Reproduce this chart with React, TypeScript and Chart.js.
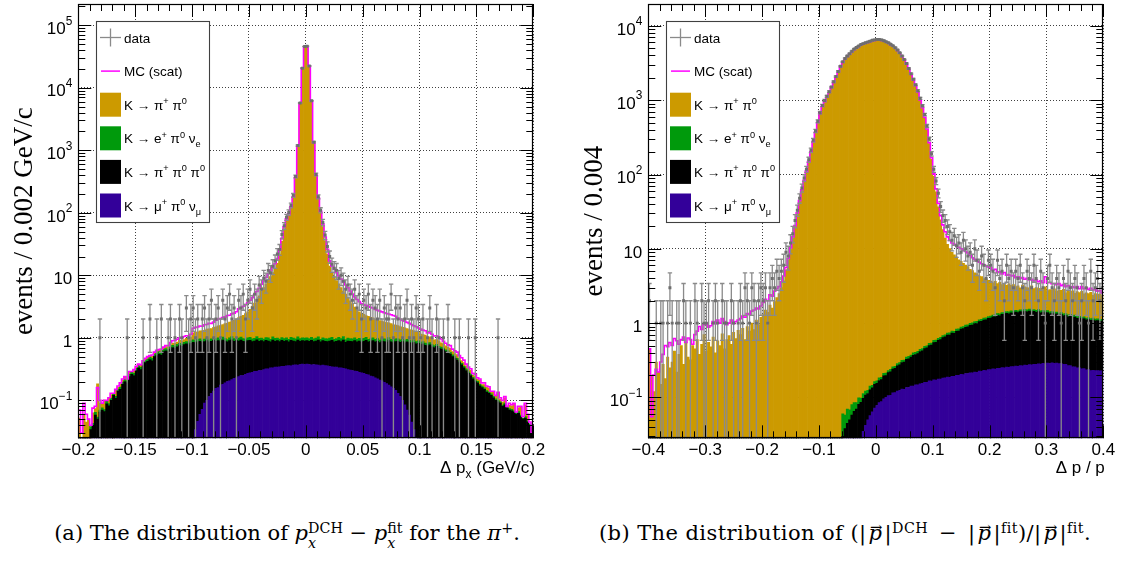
import { useEffect, useRef } from 'react';
import { Chart, registerables } from 'chart.js';

Chart.register(...registerables);

// ───────────── (a) Δp_x for the π⁺ : 200 bins of 0.002 GeV/c ─────────────
const pxRange = [-0.2, 0.2];
const pxBinWidth = 0.002;
const pxYRange = [0.0247, 2.19e5];
const pxTickStep = 0.05;
const pxDecades = [-1, 0, 1, 2, 3, 4, 5];

// K → μ⁺ π⁰ ν_μ
const pxKmu3 = [
  0,0,0,0,0,0,0,0,0,0,
  0,0,0,0,0,0,0,0,0,0,
  0,0,0,0,0,0,0,0,0,0,
  0,0,0,0,0,0,0,0,0,0,
  0,0,0,0,0,0,0,0,0,0,
  0.022,0.034,0.046,0.06,0.072,0.09,0.1,0.115,0.13,0.14,
  0.155,0.16,0.175,0.18,0.19,0.2,0.205,0.215,0.225,0.23,
  0.24,0.25,0.25,0.26,0.27,0.275,0.28,0.29,0.29,0.3,
  0.3,0.31,0.32,0.32,0.33,0.33,0.34,0.34,0.345,0.35,
  0.35,0.355,0.36,0.355,0.365,0.37,0.365,0.375,0.38,0.375,
  0.38,0.375,0.37,0.375,0.37,0.365,0.36,0.365,0.36,0.355,
  0.35,0.345,0.34,0.34,0.33,0.33,0.325,0.32,0.31,0.305,
  0.3,0.295,0.29,0.28,0.275,0.27,0.26,0.255,0.245,0.24,
  0.23,0.22,0.21,0.205,0.195,0.185,0.175,0.165,0.155,0.145,
  0.13,0.115,0.1,0.085,0.07,0.058,0.045,0.034,0.025,0.015,
  0,0,0,0,0,0,0,0,0,0,
  0,0,0,0,0,0,0,0,0,0,
  0,0,0,0,0,0,0,0,0,0,
  0,0,0,0,0,0,0,0,0,0,
  0,0,0,0,0,0,0,0,0,0,
];
// K → π⁺ π⁰ π⁰
const pxK3pi = [
  0.012,0.02,0.01,0.022,0.018,0.034,0.04,0.058,0.05,0.065,
  0.07,0.066,0.088,0.082,0.1,0.12,0.108,0.14,0.15,0.18,
  0.2,0.19,0.24,0.26,0.25,0.3,0.33,0.31,0.37,0.4,
  0.42,0.45,0.43,0.5,0.52,0.55,0.53,0.6,0.62,0.6,
  0.66,0.7,0.68,0.72,0.75,0.73,0.78,0.8,0.77,0.82,
  0.828,0.796,0.814,0.82,0.768,0.78,0.8,0.745,0.75,0.77,
  0.725,0.74,0.695,0.74,0.7,0.66,0.695,0.715,0.655,0.67,
  0.65,0.67,0.63,0.6,0.63,0.635,0.59,0.6,0.64,0.58,
  0.6,0.56,0.59,0.57,0.53,0.59,0.54,0.56,0.525,0.56,
  0.53,0.545,0.5,0.555,0.525,0.5,0.555,0.505,0.52,0.515,
  0.52,0.505,0.54,0.495,0.52,0.555,0.5,0.535,0.52,0.515,
  0.54,0.565,0.52,0.54,0.57,0.54,0.595,0.53,0.58,0.575,
  0.57,0.605,0.57,0.61,0.575,0.61,0.65,0.605,0.625,0.66,
  0.63,0.66,0.63,0.685,0.675,0.665,0.725,0.695,0.675,0.725,
  0.75,0.735,0.77,0.745,0.79,0.782,0.775,0.816,0.775,0.805,
  0.78,0.8,0.76,0.74,0.77,0.72,0.7,0.73,0.68,0.66,
  0.64,0.6,0.58,0.55,0.5,0.47,0.44,0.4,0.37,0.33,
  0.3,0.27,0.25,0.22,0.2,0.19,0.17,0.16,0.15,0.135,
  0.13,0.12,0.11,0.1,0.095,0.09,0.08,0.085,0.075,0.07,
  0.068,0.065,0.06,0.062,0.055,0.05,0.052,0.045,0.04,0.035,
];
// K → e⁺ π⁰ ν_e
const pxKe3 = [
  0,0.002,0,0.003,0.002,0.004,0.003,0.006,0.004,0.005,
  0.006,0.005,0.008,0.007,0.009,0.01,0.008,0.012,0.013,0.015,
  0.017,0.016,0.02,0.022,0.02,0.025,0.028,0.026,0.03,0.034,
  0.036,0.04,0.038,0.044,0.046,0.05,0.045,0.052,0.055,0.05,
  0.058,0.062,0.06,0.065,0.068,0.064,0.07,0.072,0.066,0.075,
  0.078,0.07,0.082,0.08,0.074,0.085,0.09,0.08,0.086,0.092,
  0.09,0.1,0.085,0.11,0.095,0.08,0.1,0.115,0.09,0.1,
  0.1,0.11,0.09,0.085,0.1,0.105,0.09,0.095,0.12,0.1,
  0.095,0.085,0.1,0.11,0.09,0.12,0.1,0.095,0.085,0.1,
  0.09,0.1,0.085,0.11,0.1,0.095,0.12,0.09,0.1,0.105,
  0.1,0.095,0.11,0.09,0.1,0.115,0.085,0.1,0.095,0.09,
  0.1,0.11,0.09,0.095,0.12,0.1,0.13,0.09,0.1,0.095,
  0.09,0.1,0.085,0.095,0.08,0.1,0.11,0.085,0.09,0.1,
  0.085,0.09,0.08,0.1,0.09,0.085,0.11,0.09,0.08,0.09,
  0.085,0.08,0.088,0.075,0.082,0.078,0.07,0.08,0.072,0.076,
  0.07,0.072,0.065,0.062,0.066,0.058,0.055,0.06,0.052,0.05,
  0.048,0.044,0.042,0.038,0.034,0.031,0.028,0.025,0.022,0.02,
  0.018,0.016,0.015,0.013,0.012,0.011,0.01,0.009,0.009,0.008,
  0.007,0.007,0.006,0.006,0.005,0.005,0.004,0.005,0.004,0.004,
  0.004,0.003,0.003,0.004,0.003,0.002,0.003,0.002,0.002,0.002,
];
// K → π⁺ π⁰
const pxK2pi = [
  0.04,0,0.05,0.02,0.03,0,0.02,0.01,0.13,0.02,
  0.01,0.03,0,0.02,0.015,0,0.03,0.01,0.02,0.015,
  0.02,0.01,0.02,0,0.03,0.02,0.01,0.03,0.02,0.03,
  0.03,0.02,0.04,0.03,0.05,0.03,0.06,0.04,0.05,0.07,
  0.05,0.06,0.08,0.07,0.09,0.1,0.09,0.11,0.12,0.13,
  0.27,0.33,0.3,0.33,0.38,0.36,0.39,0.45,0.44,0.47,
  0.53,0.56,0.62,0.6,0.7,0.77,0.79,0.81,0.94,1.0,
  1.11,1.17,1.33,1.5,1.6,1.84,2.24,2.62,3.05,3.72,
  4.6,5.4,6.3,7.4,8.6,10,11.5,14.5,21,34,
  54,74,89,119,174,359,1150,5600,20000,45000,
  46000,22000,6000,1300,389,164,99,59,35,21,
  13,10,8.55,7.3,6.3,5.4,4.55,4.05,3.4,2.93,
  2.54,2.1,1.86,1.62,1.5,1.4,1.25,1.27,1.16,1.08,
  1.05,0.98,0.97,0.86,0.85,0.82,0.72,0.74,0.7,0.64,
  0.6,0.59,0.52,0.54,0.46,0.44,0.44,0.37,0.4,0.34,
  0.3,0.26,0.28,0.22,0.2,0.21,0.17,0.15,0.16,0.12,
  0.11,0.1,0.08,0.09,0.07,0.06,0.07,0.05,0.04,0.05,
  0.04,0.03,0.04,0.02,0.03,0.02,0.03,0.01,0.02,0.02,
  0.02,0.01,0.02,0.01,0.03,0.01,0.01,0.02,0,0.01,
  0.01,0.02,0,0.01,0.02,0,0.03,0.01,0,0,
];
// MC including multiple scattering
const pxMcScat = [
  0.07,0.03,0.09,0.06,0.05,0.04,0.075,0.08,0.16,0.1,
  0.09,0.1,0.1,0.11,0.13,0.13,0.15,0.17,0.19,0.22,
  0.24,0.22,0.29,0.29,0.31,0.35,0.38,0.37,0.43,0.47,
  0.5,0.52,0.53,0.59,0.63,0.65,0.66,0.71,0.75,0.75,
  0.84,0.9,0.91,0.95,1.0,1.0,1.05,1.08,1.08,1.14,
  1.42,1.47,1.49,1.55,1.54,1.62,1.63,1.7,1.7,1.78,
  1.92,2.0,2.03,2.12,2.16,2.27,2.3,2.42,2.48,2.62,
  2.9,3.05,3.2,3.4,3.65,4.0,4.4,4.9,5.5,6.2,
  7.2,8.2,9.3,10.6,12,13.6,15.3,18.5,25.5,39,
  60,80,96,125,180,370,1170,5650,20500,45500,
  46500,22500,6100,1320,400,172,106,66,41,26,
  17,14,12.5,11,9.8,8.7,7.8,7.0,6.3,5.6,
  5.0,4.5,4.1,3.8,3.55,3.4,3.3,3.18,3.08,3.0,
  2.85,2.75,2.68,2.6,2.52,2.45,2.4,2.34,2.28,2.22,
  2.05,1.98,1.9,1.84,1.77,1.7,1.63,1.56,1.5,1.44,
  1.38,1.33,1.3,1.2,1.2,1.14,1.07,1.08,1.03,0.96,
  0.88,0.82,0.77,0.75,0.66,0.62,0.59,0.52,0.48,0.44,
  0.38,0.34,0.32,0.27,0.26,0.23,0.22,0.19,0.19,0.17,
  0.165,0.14,0.14,0.12,0.135,0.11,0.1,0.115,0.08,0.09,
  0.085,0.09,0.065,0.08,0.08,0.055,0.09,0.06,0.045,0.03,
];
// recorded events
const pxData = [
  0,0,0,0,0,0,0,0,0,1,
  0,0,0,0,0,0,0,0,0,0,
  0,1,0,0,0,0,0,0,1,0,
  0,2,0,0,1,0,2,0,0,1,
  2,0,1,0,2,1,0,3,1,2,
  3,1,2,0,2,3,1,2,4,1,
  2,3,1,4,2,3,5,2,3,1,
  4,3,5,2,4,6,3,5,4,7,
  6,9,8,12,11,14,17,22,26,45,
  62,85,101,131,190,382,1190,5700,20600,45800,
  46200,22300,6200,1350,410,180,110,70,44,29,
  20,15,13,12,9,10,8,6,7,5,
  4,6,3,5,2,4,3,5,2,4,
  3,2,4,1,3,2,2,5,1,3,
  2,3,1,2,4,1,2,1,3,2,
  1,2,0,1,3,1,0,2,1,0,
  1,0,2,0,0,1,0,1,0,0,
  0,1,0,0,1,0,0,0,0,0,
  0,0,0,0,1,0,0,0,0,0,
  0,0,0,0,0,0,0,0,0,0,
];

// ───────────── (b) Δp/p : 200 bins of 0.004 ─────────────
const dpRange = [-0.4, 0.4];
const dpBinWidth = 0.004;
const dpYRange = [0.0282, 19700];
const dpTickStep = 0.1;
const dpDecades = [-1, 0, 1, 2, 3, 4];

const dpKmu3 = [
  0,0,0,0,0,0,0,0,0,0,
  0,0,0,0,0,0,0,0,0,0,
  0,0,0,0,0,0,0,0,0,0,
  0,0,0,0,0,0,0,0,0,0,
  0,0,0,0,0,0,0,0,0,0,
  0,0,0,0,0,0,0,0,0,0,
  0,0,0,0,0,0,0,0,0,0,
  0,0,0,0,0,0,0,0,0,0,
  0,0,0,0,0,0,0,0,0,0,
  0,0,0,0.028,0.035,0.042,0.05,0.057,0.064,0.072,
  0.078,0.085,0.088,0.096,0.1,0.106,0.107,0.115,0.116,0.122,
  0.124,0.13,0.129,0.136,0.136,0.142,0.142,0.148,0.148,0.153,
  0.155,0.16,0.16,0.167,0.166,0.172,0.171,0.177,0.176,0.182,
  0.183,0.188,0.186,0.192,0.192,0.198,0.198,0.204,0.203,0.21,
  0.21,0.215,0.214,0.22,0.218,0.226,0.224,0.232,0.23,0.237,
  0.237,0.242,0.24,0.247,0.246,0.252,0.25,0.256,0.254,0.26,
  0.26,0.264,0.263,0.268,0.266,0.272,0.27,0.276,0.274,0.28,
  0.28,0.284,0.281,0.287,0.284,0.289,0.286,0.292,0.288,0.29,
  0.285,0.286,0.278,0.279,0.268,0.268,0.258,0.259,0.25,0.25,
  0.243,0.244,0.236,0.237,0.23,0.232,0.23,0.23,0.228,0.228,
];
const dpK3pi = [
  0,0,0,0,0,0,0,0,0,0,
  0,0,0,0,0,0,0,0,0,0,
  0,0,0,0,0,0,0,0,0,0,
  0,0,0,0,0,0,0,0,0,0,
  0,0,0,0,0,0,0,0,0,0,
  0,0,0,0,0,0,0,0,0,0,
  0,0,0,0,0,0,0,0,0,0,
  0,0,0,0,0,0,0,0,0,0,
  0,0,0,0,0,0.03,0.038,0.045,0.05,0.058,
  0.065,0.07,0.081,0.058,0.062,0.066,0.063,0.07,0.071,0.078,
  0.077,0.084,0.086,0.1,0.097,0.11,0.115,0.126,0.13,0.145,
  0.15,0.165,0.17,0.19,0.196,0.206,0.228,0.23,0.24,0.262,
  0.27,0.295,0.305,0.33,0.34,0.375,0.38,0.41,0.425,0.455,
  0.47,0.5,0.505,0.54,0.535,0.58,0.585,0.625,0.64,0.67,
  0.68,0.72,0.73,0.77,0.77,0.82,0.83,0.87,0.88,0.92,
  0.93,0.97,0.98,1.02,1.01,1.06,1.06,1.1,1.08,1.12,
  1.1,1.14,1.12,1.16,1.14,1.17,1.15,1.18,1.13,1.16,
  1.12,1.15,1.1,1.12,1.09,1.1,1.05,1.07,1.03,1.04,
  1.0,1.03,0.98,0.99,0.95,0.97,0.93,0.95,0.91,0.92,
  0.89,0.91,0.87,0.88,0.86,0.87,0.84,0.85,0.82,0.84,
];
const dpKe3 = [
  0,0,0,0,0,0,0,0,0,0,
  0,0,0,0,0,0,0,0,0,0,
  0,0,0,0,0,0,0,0,0,0,
  0,0,0,0,0,0,0,0,0,0,
  0,0,0,0,0,0,0,0,0,0,
  0,0,0,0,0,0,0,0,0,0,
  0,0,0,0,0,0,0,0,0,0,
  0,0,0,0,0,0,0,0,0,0,
  0,0,0,0,0,0.03,0.02,0.025,0.018,0.022,
  0.02,0.015,0.018,0.012,0.016,0.014,0.012,0.015,0.011,0.013,
  0.012,0.014,0.013,0.015,0.016,0.014,0.017,0.018,0.016,0.019,
  0.02,0.022,0.02,0.024,0.025,0.023,0.027,0.026,0.028,0.03,
  0.031,0.033,0.03,0.036,0.035,0.038,0.04,0.037,0.042,0.043,
  0.045,0.044,0.048,0.05,0.047,0.052,0.053,0.055,0.056,0.058,
  0.06,0.058,0.063,0.062,0.066,0.065,0.068,0.07,0.072,0.071,
  0.074,0.073,0.076,0.078,0.077,0.08,0.082,0.08,0.083,0.084,
  0.085,0.084,0.086,0.087,0.088,0.086,0.089,0.088,0.087,0.086,
  0.086,0.085,0.084,0.083,0.084,0.082,0.081,0.08,0.079,0.078,
  0.077,0.076,0.075,0.074,0.072,0.073,0.071,0.07,0.069,0.068,
  0.067,0.066,0.065,0.064,0.065,0.063,0.062,0.062,0.061,0.06,
];
const dpK2pi = [
  0.45,0.2,0.12,0.3,0.22,0.15,0.28,0.18,0.35,0.25,
  0.3,0.42,0.22,0.38,0.5,0.28,0.55,0.35,0.32,0.5,
  0.45,0.6,0.38,0.52,0.7,0.42,0.55,0.48,0.65,0.4,
  0.58,0.5,0.72,0.45,0.6,0.68,0.52,0.75,0.62,0.8,
  0.7,0.85,0.6,0.9,0.78,1.0,0.82,1.1,0.95,1.2,
  1.3,1.5,1.4,1.75,1.6,1.95,2.2,2.5,3.0,3.7,
  5.2,7,9.8,14,20,30,44,62,83,110,
  148,200,275,370,500,660,820,950,1090,1260,
  1460,1720,2020,2380,2800,3200,3550,3850,4150,4450,
  4750,5000,5250,5500,5650,5800,5950,6100,6250,6350,
  6450,6450,6350,6200,6000,5800,5550,5300,5000,4650,
  4250,3850,3450,3050,2600,2200,1850,1550,1280,1000,
  780,580,400,260,160,95,58,36,24,17.5,
  13.3,10.8,9.3,8.2,7.5,6.9,6.3,5.9,5.5,5.1,
  4.8,4.3,4.1,3.7,3.6,3.2,3.1,2.8,2.75,2.55,
  2.45,2.2,2.35,2.05,2.2,1.9,2.05,1.8,1.95,1.75,
  1.85,1.62,1.7,1.48,1.76,1.55,1.5,1.42,1.68,1.38,
  1.52,1.4,1.47,1.33,1.62,1.28,1.41,1.36,1.49,1.27,
  1.43,1.37,1.51,1.22,1.39,1.34,1.46,1.24,1.42,1.33,
  1.48,1.26,1.38,1.31,1.44,1.21,1.37,1.29,1.35,1.22,
];
const dpMcScat = [
  0.45,0.055,0.2,0.24,0.22,0.3,0.38,0.5,0.48,0.55,
  0.5,0.62,0.58,0.52,0.6,0.65,0.55,0.63,0.6,0.52,
  0.7,0.78,0.9,0.82,0.95,1.0,0.88,0.92,1.05,0.98,
  1.1,1.0,1.15,1.05,0.95,1.0,1.1,0.98,1.05,1.1,
  1.15,1.25,1.2,1.35,1.3,1.45,1.5,1.6,1.55,1.7,
  1.9,2.1,2.0,2.4,2.3,2.7,2.9,3.1,3.6,4.3,
  5.6,7.4,10.3,14.5,20.5,30.5,44.5,62.5,83.5,111,
  149,202,277,373,503,664,826,956,1097,1268,
  1470,1730,2032,2395,2818,3220,3572,3874,4175,4477,
  4780,5030,5282,5533,5684,5835,5986,6137,6288,6388,
  6489,6489,6388,6237,6036,5835,5583,5332,5030,4678,
  4276,3874,3472,3070,2618,2215,1864,1562,1290,1008,
  790,590,410,268,168,102,64,41,28,21,
  17,14.5,13,12,11.5,11,10.5,10,9.6,9.2,
  8.8,8.2,7.6,7.2,6.8,6.6,6.3,6.1,5.9,5.7,
  5.6,5.2,5.3,4.8,4.9,4.6,4.8,4.4,4.5,4.3,
  4.4,4.1,4.2,4.0,4.1,3.9,4.0,3.8,3.9,3.7,
  3.8,3.6,3.7,3.5,4.2,3.5,3.5,3.4,3.4,3.3,
  3.4,3.2,3.3,3.1,3.2,3.0,3.1,3.0,3.1,2.9,
  3.1,2.9,3.0,2.85,2.95,2.8,2.85,2.7,2.75,2.55,
];
const dpData = [
  2,0,0,1,0,1,1,0,1,3,
  1,0,1,1,0,2,1,0,1,0,
  2,1,0,2,1,1,2,0,1,2,
  1,0,2,1,1,0,2,1,0,1,
  2,1,3,2,1,3,2,1,2,3,
  2,3,1,3,4,3,5,4,5,6,
  9,8,12,16,24,33,48,66,90,118,
  158,212,290,385,520,680,850,990,1130,1300,
  1500,1770,2080,2440,2870,3280,3640,3930,4230,4550,
  4870,5110,5360,5620,5770,5920,6080,6230,6390,6480,
  6580,6570,6480,6330,6120,5920,5660,5400,5090,4750,
  4340,3930,3520,3120,2670,2270,1920,1610,1340,1060,
  840,640,450,300,190,118,82,56,37,28,
  24,20,17,13,15,11,12,9,13,10,
  8,9,6,10,7,5,8,6,4,7,
  6,5,3,7,4,5,2,6,4,5,
  3,5,4,6,3,2,5,4,3,6,
  4,2,5,3,1,4,6,3,2,4,
  3,1,4,2,5,3,2,4,3,1,
  2,4,3,1,5,2,3,4,2,3,
];

// ───────────── styling ─────────────
const COL_K2PI = '#cc9a00';
const COL_KE3 = '#009a0c';
const COL_K3PI = '#000000';
const COL_KMU3 = '#330099';
const COL_SCAT = '#ff00ff';
const COL_DATA = '#6e6e6e';
const COL_ERR = '#8a8a8a';
const GRID = 'rgba(0,0,0,0.75)';
const SANS = '"Liberation Sans", Arial, Helvetica, sans-serif';
const SERIF = '"Liberation Serif", "Times New Roman", serif';
const CAPTION_FONT = '"DejaVu Serif", serif';

const CANVAS_H = 480;
const Y_AXIS_W = 78.3;
const X_AXIS_H = 41.7;
const AREA_TOP = 2;
const AREA_W = 455;

type Seg = { t: string; sup?: boolean; sub?: boolean };
type LegendRow = { kind: 'data' | 'line' | 'box'; color?: string; segs: Seg[] };

const LEGEND_ROWS: LegendRow[] = [
  { kind: 'data', segs: [{ t: 'data' }] },
  { kind: 'line', color: COL_SCAT, segs: [{ t: 'MC (scat)' }] },
  { kind: 'box', color: COL_K2PI, segs: [{ t: 'K → π' }, { t: '+', sup: true }, { t: ' π' }, { t: '0', sup: true }] },
  { kind: 'box', color: COL_KE3, segs: [{ t: 'K → e' }, { t: '+', sup: true }, { t: ' π' }, { t: '0', sup: true }, { t: ' ν' }, { t: 'e', sub: true }] },
  { kind: 'box', color: COL_K3PI, segs: [{ t: 'K → π' }, { t: '+', sup: true }, { t: ' π' }, { t: '0', sup: true }, { t: ' π' }, { t: '0', sup: true }] },
  { kind: 'box', color: COL_KMU3, segs: [{ t: 'K → μ' }, { t: '+', sup: true }, { t: ' π' }, { t: '0', sup: true }, { t: ' ν' }, { t: 'μ', sub: true }] },
];

type PanelSpec = {
  range: number[]; bin: number; yRange: number[]; tickStep: number; decades: number[];
  kmu3: number[]; k3pi: number[]; ke3: number[]; k2pi: number[]; scat: number[]; data: number[];
  yTitle: string; xTitle: Seg[];
};

const panelA: PanelSpec = {
  range: pxRange, bin: pxBinWidth, yRange: pxYRange, tickStep: pxTickStep, decades: pxDecades,
  kmu3: pxKmu3, k3pi: pxK3pi, ke3: pxKe3, k2pi: pxK2pi, scat: pxMcScat, data: pxData,
  yTitle: 'events / 0.002 GeV/c',
  xTitle: [{ t: 'Δ p' }, { t: 'x', sub: true }, { t: ' (GeV/c)' }],
};
const panelB: PanelSpec = {
  range: dpRange, bin: dpBinWidth, yRange: dpYRange, tickStep: dpTickStep, decades: dpDecades,
  kmu3: dpKmu3, k3pi: dpK3pi, ke3: dpKe3, k2pi: dpK2pi, scat: dpMcScat, data: dpData,
  yTitle: 'events / 0.004',
  xTitle: [{ t: 'Δ p / p' }],
};

// draws a run of text with raised / lowered pieces; y is the main baseline
function drawRich(
  ctx: CanvasRenderingContext2D, segs: Seg[], x: number, y: number, size: number,
  family: string, align: 'left' | 'right', supRaise: number, subDrop: number, small = 0.7,
) {
  const items = segs.map((s) => {
    const fs = s.sup || s.sub ? size * small : size;
    const font = `${fs}px ${family}`;
    ctx.font = font;
    return { s, font, w: ctx.measureText(s.t).width, dy: s.sup ? -supRaise : s.sub ? subDrop : 0 };
  });
  const total = items.reduce((a, b) => a + b.w, 0);
  let cx = align === 'right' ? x - total : x;
  ctx.textAlign = 'left';
  ctx.textBaseline = 'alphabetic';
  for (const it of items) {
    ctx.font = it.font;
    ctx.fillText(it.s.t, cx, y + it.dy);
    cx += it.w;
  }
}

function line(ctx: CanvasRenderingContext2D, x1: number, y1: number, x2: number, y2: number) {
  ctx.beginPath();
  ctx.moveTo(x1, y1);
  ctx.lineTo(x2, y2);
  ctx.stroke();
}

function framePlugin(p: PanelSpec) {
  return {
    id: 'rootFrame',
    // Poisson error bars, drawn just before the data markers
    beforeDatasetDraw(chart: any, args: any) {
      if (args.index !== 0) return;
      const ctx: CanvasRenderingContext2D = chart.ctx;
      const { left, right, top, bottom } = chart.chartArea;
      const xs = chart.scales.x;
      const ys = chart.scales.y;
      const pts = chart.data.datasets[0].data as { x: number; y: number | null }[];
      ctx.save();
      ctx.beginPath();
      ctx.rect(left, top, right - left, bottom - top);
      ctx.clip();
      ctx.strokeStyle = COL_ERR;
      ctx.lineWidth = 1.3;
      for (const pt of pts) {
        if (pt.y == null) continue;
        const e = Math.sqrt(pt.y);
        const px = xs.getPixelForValue(pt.x);
        const hi = ys.getPixelForValue(pt.y + e);
        const lowOk = pt.y - e > 0;
        const lo = lowOk ? ys.getPixelForValue(pt.y - e) : bottom + 2;
        line(ctx, px, hi, px, lo);
        line(ctx, px - 2.2, hi, px + 2.2, hi);
        if (lowOk) line(ctx, px - 2.2, lo, px + 2.2, lo);
      }
      ctx.restore();
    },
    afterDatasetsDraw(chart: any) {
      const ctx: CanvasRenderingContext2D = chart.ctx;
      const { left, right, top, bottom } = chart.chartArea;
      const xs = chart.scales.x;
      const ys = chart.scales.y;
      ctx.save();
      ctx.strokeStyle = '#000';
      ctx.lineWidth = 1;
      // x tick marks (inside, bottom and top)
      const minor = p.tickStep / 5;
      const nx = Math.round((p.range[1] - p.range[0]) / minor);
      for (let i = 0; i <= nx; i++) {
        const px = Math.round(xs.getPixelForValue(p.range[0] + i * minor)) + 0.5;
        const len = i % 5 === 0 ? 13 : 7;
        line(ctx, px, bottom, px, bottom - len);
        line(ctx, px, top, px, top + len);
      }
      // y tick marks (inside, left and right)
      const d0 = Math.floor(Math.log10(p.yRange[0]));
      const d1 = Math.ceil(Math.log10(p.yRange[1]));
      for (let d = d0; d <= d1; d++) {
        for (let m = 1; m <= 9; m++) {
          const v = m * Math.pow(10, d);
          if (v < p.yRange[0] || v > p.yRange[1]) continue;
          const py = Math.round(ys.getPixelForValue(v)) + 0.5;
          const len = m === 1 ? 13 : 7;
          line(ctx, left, py, left + len, py);
          line(ctx, right, py, right - len, py);
        }
      }
      // frame
      ctx.lineWidth = 1.2;
      ctx.strokeRect(Math.round(left) + 0.5, Math.round(top) + 0.5, Math.round(right - left) - 1, Math.round(bottom - top) - 1);

      // legend box
      const bx = Math.round(left + 17.4) + 0.5;
      const by = Math.round(top + 16.5) + 0.5;
      const bw = 113;
      const bh = 201;
      ctx.fillStyle = '#fff';
      ctx.fillRect(bx, by, bw, bh);
      ctx.strokeStyle = '#404040';
      ctx.lineWidth = 1.1;
      ctx.strokeRect(bx, by, bw, bh);
      LEGEND_ROWS.forEach((row, i) => {
        const cy = by + 16 + i * 33.6;
        const sx = bx + 3.5;
        if (row.kind === 'data') {
          ctx.strokeStyle = '#8a8a8a';
          ctx.lineWidth = 1.3;
          line(ctx, sx, cy, sx + 21, cy);
          line(ctx, sx + 10.5, cy - 9, sx + 10.5, cy + 9);
        } else if (row.kind === 'line') {
          ctx.strokeStyle = row.color!;
          ctx.lineWidth = 1.5;
          line(ctx, sx + 1, cy, sx + 20, cy);
        } else {
          ctx.fillStyle = row.color!;
          ctx.fillRect(sx, cy - 12, 21, 24);
        }
        ctx.fillStyle = '#000';
        drawRich(ctx, row.segs, bx + 27.5, cy + 5, 13.5, SANS, 'left', 5.6, 4, 0.68);
      });
      ctx.restore();
    },
    afterDraw(chart: any) {
      const ctx: CanvasRenderingContext2D = chart.ctx;
      const { left, right, top, bottom } = chart.chartArea;
      const ys = chart.scales.y;
      ctx.save();
      ctx.fillStyle = '#000';
      // decade labels
      for (const d of p.decades) {
        const py = ys.getPixelForValue(Math.pow(10, d));
        const segs: Seg[] = d === 0 ? [{ t: '1' }] : d === 1 ? [{ t: '10' }]
          : [{ t: '10' }, { t: d < 0 ? '−' + -d : String(d), sup: true }];
        drawRich(ctx, segs, left - 6, py + 8.7, 17, SANS, 'right', 9.4, 0, 0.7);
      }
      // axis titles
      drawRich(ctx, p.xTitle, right + 1.5, bottom + 34.4, 17, SANS, 'right', 0, 4.8, 0.7);
      ctx.translate(left - 53, (top + bottom) / 2);
      ctx.rotate(-Math.PI / 2);
      ctx.font = `27px ${SERIF}`;
      ctx.textAlign = 'center';
      ctx.textBaseline = 'middle';
      ctx.fillText(p.yTitle, 0, 0);
      ctx.restore();
    },
  };
}

function buildConfig(p: PanelSpec, canvasW: number): any {
  const n = p.k2pi.length;
  const centers = Array.from({ length: n }, (_, i) => p.range[0] + (i + 0.5) * p.bin);
  const pts = (arr: number[]) => arr.map((y, i) => ({ x: centers[i], y }));
  const bar = (label: string, arr: number[], color: string, order: number) => ({
    type: 'bar', label, data: pts(arr), backgroundColor: color, borderWidth: 0,
    barPercentage: 1, categoryPercentage: 1, stack: 'mc', order,
  });
  const scatOutline = [{ x: p.range[0], y: p.scat[0] }, ...pts(p.scat), { x: p.range[1], y: p.scat[n - 1] }];
  const dataPts = p.data.map((y, i) => ({ x: centers[i], y: y > 0 ? y : null }));
  const fmt = (v: number) => {
    if (Math.abs(v) < 1e-9) return '0';
    return (v < 0 ? '−' : '') + parseFloat(Math.abs(v).toFixed(3)).toString();
  };
  return {
    type: 'bar',
    data: {
      datasets: [
        { type: 'scatter', label: 'data', data: dataPts, pointStyle: 'rect', pointRadius: 2.1,
          backgroundColor: COL_DATA, borderWidth: 0, order: 0, stack: 'data' },
        { type: 'line', label: 'MC (scat)', data: scatOutline, borderColor: COL_SCAT, borderWidth: 1.6,
          pointRadius: 0, stepped: 'middle', fill: false, order: 1, stack: 'scat' },
        bar('K → μ+ π0 νμ', p.kmu3, COL_KMU3, 2),
        bar('K → π+ π0 π0', p.k3pi, COL_K3PI, 3),
        bar('K → e+ π0 νe', p.ke3, COL_KE3, 4),
        bar('K → π+ π0', p.k2pi, COL_K2PI, 5),
      ],
    },
    options: {
      responsive: false,
      animation: false,
      devicePixelRatio: 1,
      events: [],
      layout: { padding: { top: AREA_TOP, right: canvasW - Y_AXIS_W - AREA_W, left: 0, bottom: 0 } },
      plugins: { legend: { display: false }, tooltip: { enabled: false } },
      scales: {
        x: {
          type: 'linear', min: p.range[0], max: p.range[1], bounds: 'data', offset: false,
          grid: { offset: false, drawTicks: false, color: GRID, lineWidth: 1 },
          border: { display: false, dash: [1, 2] },
          ticks: {
            stepSize: p.tickStep, autoSkip: false, maxRotation: 0, padding: 1.5, color: '#000',
            font: { family: SANS, size: 17 }, callback: (v: number) => fmt(Number(v)),
          },
          afterFit: (s: any) => { s.height = X_AXIS_H; },
        },
        y: {
          type: 'logarithmic', min: p.yRange[0], max: p.yRange[1], bounds: 'data', stacked: true,
          grid: { drawTicks: false, color: GRID, lineWidth: 1 },
          border: { display: false, dash: [1, 2] },
          ticks: { display: false },
          afterBuildTicks: (s: any) => { s.ticks = p.decades.map((d) => ({ value: Math.pow(10, d) })); },
          afterFit: (s: any) => { s.width = Y_AXIS_W; },
        },
      },
    },
    plugins: [framePlugin(p)],
  };
}

function HistPanel({ spec, left, width }: { spec: PanelSpec; left: number; width: number }) {
  const ref = useRef<HTMLCanvasElement>(null);
  useEffect(() => {
    const chart = new Chart(ref.current!, buildConfig(spec, width));
    return () => chart.destroy();
  }, [spec, width]);
  return (
    <canvas ref={ref} width={width} height={CANVAS_H}
      style={{ position: 'absolute', left, top: 0, width, height: CANVAS_H }} />
  );
}

const Sup = ({ children }: { children: any }) => (
  <span style={{ fontSize: '0.68em', verticalAlign: '0.5em', lineHeight: 0 }}>{children}</span>
);
const SubSup = ({ sup, sub }: { sup: any; sub: any }) => (
  <span style={{ display: 'inline-flex', flexDirection: 'column', verticalAlign: '0.5em', fontSize: '0.68em', lineHeight: 1.05 }}>
    <span>{sup}</span>
    <span>{sub}</span>
  </span>
);
const VecP = () => (
  <span style={{ position: 'relative', display: 'inline-block', margin: '0 0.1em' }}>
    <i>p</i>
    <span style={{ position: 'absolute', left: '0.1em', top: '-0.42em', fontSize: '0.7em' }}>→</span>
  </span>
);

const captionStyle: any = {
  position: 'absolute', top: 519, fontFamily: CAPTION_FONT, fontSize: 21, lineHeight: '28px',
  whiteSpace: 'nowrap', transform: 'translateX(-50%)', color: '#000',
};

export default function App() {
  return (
    <div style={{ position: 'absolute', left: 0, top: 0, width: 1128, height: 563, background: '#fff', overflow: 'hidden' }}>
      <HistPanel spec={panelA} left={0} width={564} />
      <HistPanel spec={panelB} left={570} width={558} />
      <div style={{ ...captionStyle, left: 287 }}>
        (a) The distribution of <i>p</i><SubSup sup="DCH" sub={<i>x</i>} /> − <i>p</i><SubSup sup="fit" sub={<i>x</i>} /> for the <i>π</i><Sup>+</Sup>.
      </div>
      <div style={{ ...captionStyle, left: 845, letterSpacing: '0.02em' }}>
        (b) The distribution of (|<VecP />|<Sup>DCH</Sup>{'\u2002−\u2002'}|<VecP />|<Sup>fit</Sup>)/|<VecP />|<Sup>fit</Sup>.
      </div>
    </div>
  );
}
